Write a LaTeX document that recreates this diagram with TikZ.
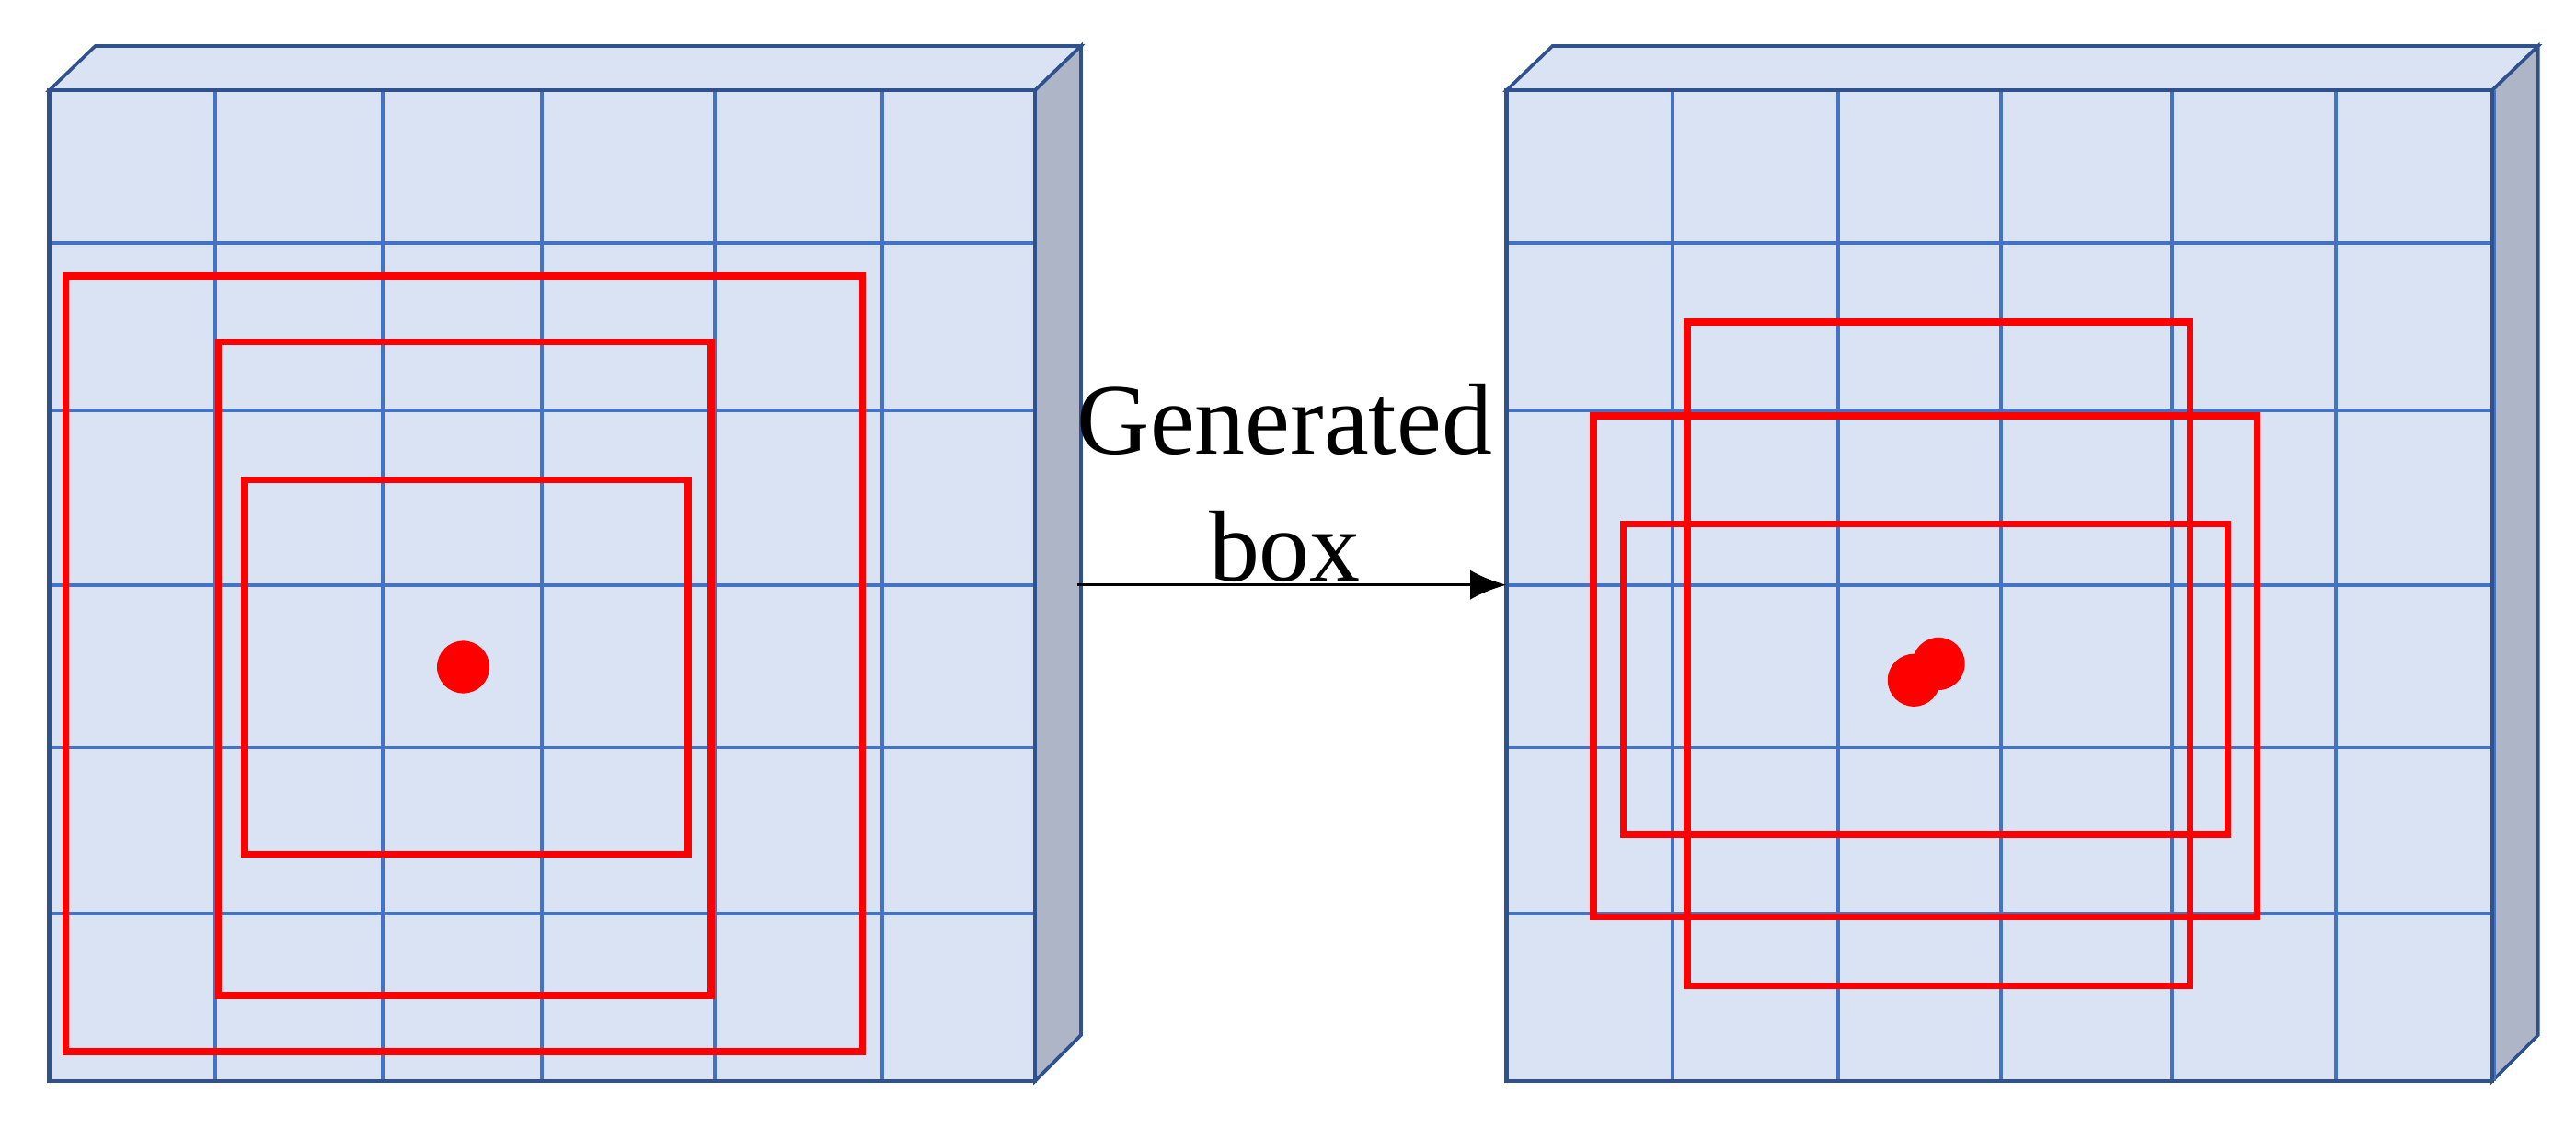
\documentclass[tikz,border=0pt]{standalone}
\usetikzlibrary{arrows.meta}
\usepackage{fontspec}
\setmainfont{Liberation Serif}
\begin{document}
\begin{tikzpicture}[x=0.1mm,y=-0.1mm,
  grid/.style={draw=gridc, line width=0.22mm},
  rbox/.style={draw=red, line width=0.42mm},
  dot/.style={fill=red, circle, inner sep=0pt, minimum size=3.2mm}]
\definecolor{facec}{HTML}{DAE3F3}
\definecolor{gridc}{HTML}{4472C4}
\definecolor{edgec}{HTML}{2F528F}
\definecolor{sidec}{HTML}{ADB5C7}
\useasboundingbox (0,0) rectangle (1568,686.5);
\foreach \ox/\cols in {30/{30,131,233,330,435,537,630},917/{917,1018,1119,1218,1322,1422,1518}}{
  \pgfmathsetmacro{\R}{\ox+600}
  \filldraw[fill=facec,draw=edgec,line width=0.2mm] (\ox,55) -- (\ox+28,28) -- (\R+28,28) -- (\R,55) -- cycle;
  \filldraw[fill=sidec,draw=edgec,line width=0.2mm] (\R,55) -- (\R+28,28) -- (\R+28,630) -- (\R,658) -- cycle;
  \fill[facec] (\ox,55) rectangle (\R,658);
  \foreach \c in \cols {\draw[grid] (\c,55) -- (\c,658);}
  \foreach \r in {148,250,356,455,556} {\draw[grid] (\ox,\r) -- (\R,\r);}
  \draw[edgec,line width=0.25mm] (\ox,55) rectangle (\R,658);
}
\draw[rbox] (40,168) rectangle (525,640);
\draw[rbox] (133,208) rectangle (433,606);
\draw[rbox] (149,292) rectangle (419,520);
\node[dot] (d1) at (282,406) {};
\draw[rbox] (1027,196) rectangle (1333,600);
\draw[rbox] (970,253) rectangle (1374,558);
\draw[rbox] (988,319) rectangle (1356,508);
\node[dot] (d2) at (1180,404) {};
\node[dot] (d3) at (1165,414) {};
\coordinate (a1) at (656,356);
\coordinate (a2) at (917,356);
\draw[-{Latex[length=2.2mm,width=1.8mm]},line width=0.2mm] (a1) -- (a2);
\node[align=center,font=\fontsize{17.5}{22}\selectfont] (t) at (782,294) {Generated\\box};
\end{tikzpicture}
\end{document}
